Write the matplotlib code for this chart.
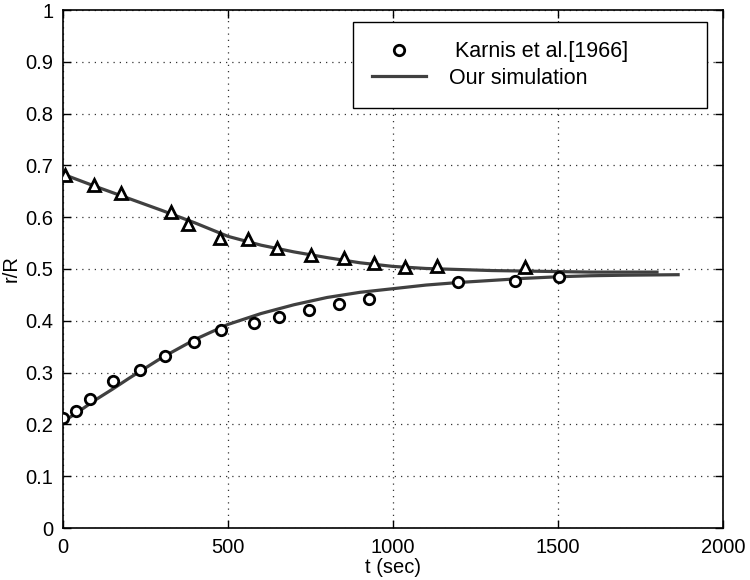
import matplotlib
matplotlib.use("Agg")
import matplotlib.pyplot as plt

plt.rcParams['font.family'] = ['Liberation Sans', 'DejaVu Sans']

# Experimental data (Karnis et al. 1966) - lower branch (circles)
circ_t = [0, 39, 82, 152, 233, 309, 397, 478, 579, 655, 745, 836, 927, 1197, 1370, 1503]
circ_r = [0.212, 0.226, 0.249, 0.284, 0.305, 0.332, 0.359, 0.382, 0.396, 0.407,
          0.421, 0.432, 0.442, 0.475, 0.477, 0.485]

# Experimental data - upper branch (triangles)
tri_t = [5, 94, 175, 327, 378, 475, 561, 647, 752, 850, 943, 1035, 1133, 1400]
tri_r = [0.681, 0.662, 0.647, 0.610, 0.587, 0.560, 0.557, 0.540, 0.527, 0.521,
         0.512, 0.504, 0.506, 0.503]

# Simulation - lower curve
sim_low_t = [0, 50, 100, 150, 200, 250, 300, 400, 500, 600, 700, 800, 900, 1000,
             1100, 1200, 1300, 1400, 1500, 1600, 1700, 1864]
sim_low_r = [0.205, 0.226, 0.248, 0.268, 0.289, 0.309, 0.329, 0.364, 0.393, 0.414,
             0.431, 0.445, 0.455, 0.462, 0.469, 0.474, 0.478, 0.482, 0.485, 0.487,
             0.488, 0.489]

# Simulation - upper curve
sim_up_t = [0, 100, 200, 300, 400, 500, 600, 700, 800, 900, 1000, 1100, 1200,
            1300, 1400, 1500, 1600, 1800]
sim_up_r = [0.683, 0.659, 0.636, 0.613, 0.589, 0.563, 0.546, 0.533, 0.522, 0.512,
            0.505, 0.501, 0.499, 0.497, 0.496, 0.495, 0.494, 0.494]

x_ticks = [0, 500, 1000, 1500, 2000]
y_ticks = [0, 0.1, 0.2, 0.3, 0.4, 0.5, 0.6, 0.7, 0.8, 0.9, 1]
y_ticklabels = ['0', '0.1', '0.2', '0.3', '0.4', '0.5', '0.6', '0.7', '0.8', '0.9', '1']

fig = plt.figure(figsize=(7.5, 5.8), dpi=100)
ax = fig.add_axes([63/750, 1 - 528/580, 660/750, 518/580])

line_color = '#404040'
ax.plot(sim_up_t, sim_up_r, color=line_color, lw=2.3, zorder=2)
ax.plot(sim_low_t, sim_low_r, color=line_color, lw=2.3, zorder=2,
        label='Our simulation')
ax.plot(tri_t, tri_r, ls='none', marker='^', ms=8, mfc='white', mec='black',
        mew=2.0, zorder=3)
ax.plot(circ_t, circ_r, ls='none', marker='o', ms=7.5, mfc='white', mec='black',
        mew=2.0, zorder=3, label=' Karnis et al.[1966]')

ax.set_xlim(0, 2000)
ax.set_ylim(0, 1)
ax.set_xticks(x_ticks)
ax.set_yticks(y_ticks)
ax.set_yticklabels(y_ticklabels)
ax.tick_params(direction='in', top=True, right=True, labelsize=14.5, length=6,
               width=1, colors='black', pad=7)
ax.grid(True, color='#333333', linestyle=(0, (1, 4)), linewidth=0.9)
for s in ax.spines.values():
    s.set_linewidth(1.2)

ax.set_xlabel('t (sec)', fontsize=14.5, labelpad=1)
ax.set_ylabel('r/R', fontsize=14.5, labelpad=3)

handles, labels = ax.get_legend_handles_labels()
x0 = (353 - 63) / 660
x1 = (707 - 63) / 660
y1 = 1 - (22 - 10) / 518
y0 = 1 - (106 - 10) / 518
leg = ax.legend(handles[::-1], labels[::-1], loc='upper left',
                bbox_to_anchor=(x0, y0, x1 - x0, y1 - y0), mode='expand',
                fontsize=15.5, frameon=True,
                fancybox=False, edgecolor='black', framealpha=1,
                handlelength=2.5, borderpad=0.9, labelspacing=0.25,
                handletextpad=1.05, borderaxespad=0)
leg.get_frame().set_linewidth(1.0)

fig.savefig('out.png', dpi=100)
